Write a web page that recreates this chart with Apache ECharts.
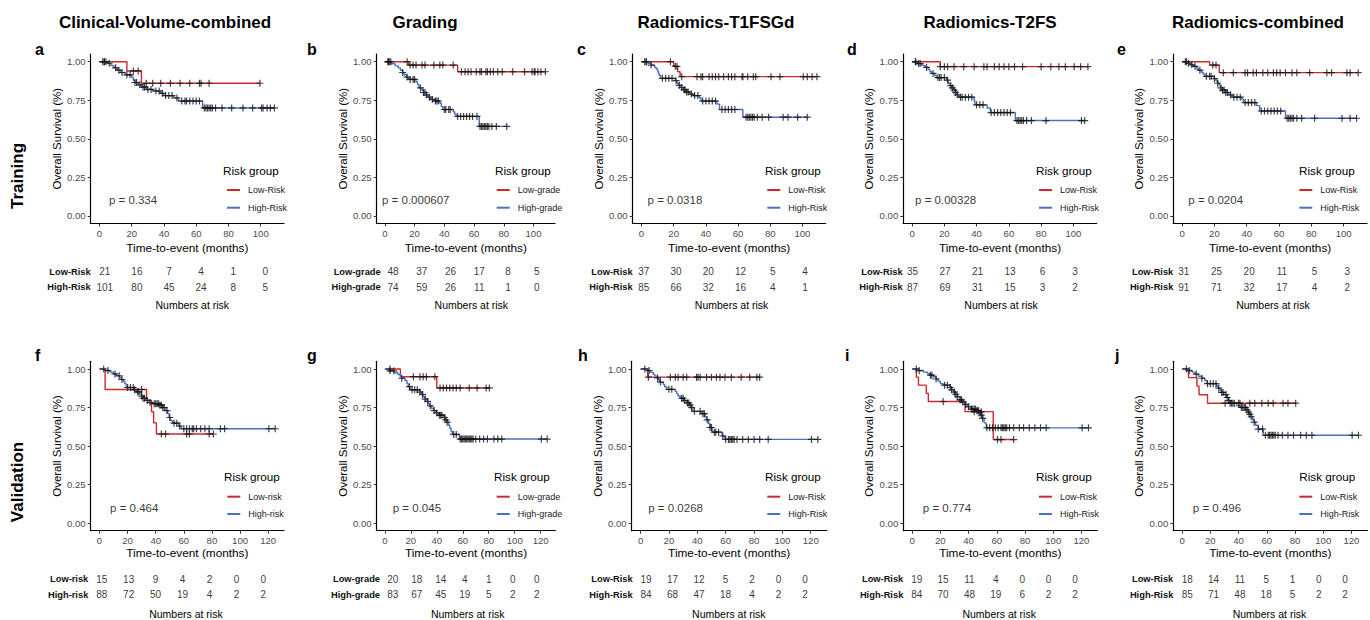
<!DOCTYPE html>
<html><head><meta charset="utf-8">
<script src="https://cdn.jsdelivr.net/npm/echarts@6/dist/echarts.min.js"></script>
<style>html,body{margin:0;padding:0;background:#fff}#c{width:1370px;height:620px}</style>
</head><body><div id="c"></div>
<script>
// ---------------- text / ticks ----------------
const columnTitles = ['Clinical-Volume-combined', 'Grading', 'Radiomics-T1FSGd', 'Radiomics-T2FS', 'Radiomics-combined'];
const rowTitles = ['Training', 'Validation'];
const panelLetters = ['a','b','c','d','e','f','g','h','i','j'];
const legendTitle = 'Risk group';
const xAxisTitle = 'Time-to-event (months)';
const yAxisTitle = 'Overall Survival (%)';
const tableTitle = 'Numbers at risk';
const xTicksTrain = [0, 20, 40, 60, 80, 100];
const xTicksVal = [0, 20, 40, 60, 80, 100, 120];
const yTicks = [0, 0.25, 0.5, 0.75, 1];
const groupNames = [
  ['Low-Risk','High-Risk'], ['Low-grade','High-grade'], ['Low-Risk','High-Risk'], ['Low-Risk','High-Risk'], ['Low-Risk','High-Risk'],
  ['Low-risk','High-risk'], ['Low-grade','High-grade'], ['Low-Risk','High-Risk'], ['Low-Risk','High-Risk'], ['Low-Risk','High-Risk']
];
const pValues = ['0.334', '0.000607', '0.0318', '0.00328', '0.0204', '0.464', '0.045', '0.0268', '0.774', '0.496'];

// ---------------- panel a ----------------
const aLowSteps = [[0,1],[17,0.94],[26,0.86],[99.5,0.86]];
const aLowCensor = [3,21,24,29,33,38,44,50,56,62,63,68,99.5];
const aHighSteps = [[0,1],[5,0.99],[7,0.975],[9,0.96],[11,0.945],[13,0.93],[16,0.915],[20,0.9],[21,0.88],[22,0.865],[24,0.85],[26,0.835],[29,0.82],[33,0.81],[38,0.795],[40,0.78],[46,0.765],[49,0.745],[64,0.70],[108.5,0.70]];
const aHighCensor = [2,3,4,6,10,12,14,17,19,22,23,25,27,28,30,32,35,37,39,41,43,45,48,51,53,54,56,58,60,62,65,66,67,68,69,70,72,76,82,89,95,100.5,101.5,104,106,108.5];
const aLowRisk = [21,16,7,4,1,0];
const aHighRisk = [101,80,45,24,8,5];
// ---------------- panel b ----------------
const bLowSteps = [[0,1],[16,0.978],[49,0.935],[108,0.935]];
const bLowCensor = [2.5,4,15,17,19,21,25,27,33,37,39,46,51.5,54,56,58,61.5,64,65,68,69,71,73,76,79,86,94,99,100.5,101,103,105,108];
const bHighSteps = [[0,1],[4,0.987],[7,0.973],[9,0.96],[10.5,0.945],[12,0.93],[13,0.915],[14.5,0.9],[16,0.885],[21,0.87],[22,0.85],[23,0.83],[25,0.815],[26,0.8],[28,0.785],[29,0.77],[31,0.755],[33,0.745],[37,0.73],[38,0.71],[39,0.69],[46,0.675],[47,0.66],[48,0.645],[63.5,0.58],[82,0.58]];
const bHighCensor = [2,3,12,15,17,19,20,24,26,27,28,30,32,34,35,36,40,41,43,44,49,51,53,55,57,59,62,64,65,66,67,68,69,70,72,75,82];
const bLowRisk = [48,37,26,17,8,5];
const bHighRisk = [74,59,26,11,1,0];
// ---------------- panel c ----------------
const cLowSteps = [[0,1],[20,0.97],[22.5,0.935],[24,0.903],[109,0.903]];
const cLowCensor = [3,18,21,22,25,34.5,37,38,42,44,46,48,51,54,56,58,62.5,63,66,69.5,71,80.5,86,100.5,103,106,109];
const cHighSteps = [[0,1],[4,0.99],[6,0.978],[8,0.966],[9,0.954],[10,0.94],[10.5,0.925],[11,0.91],[12,0.892],[21,0.877],[22,0.862],[23,0.847],[24.5,0.832],[26,0.818],[28,0.804],[30,0.79],[32,0.78],[36,0.765],[37,0.745],[47,0.725],[48.5,0.69],[63,0.64],[103,0.64]];
const cHighCensor = [2,3,6,13,15,17,19,21.5,23.5,25,26.5,27,28,29,31,33,35,38,40,42,44,46,50,52,54,56,58,65,66,67,68,69,70,72,75,79,88,91,97,103];
const cLowRisk = [37,30,20,12,5,4];
const cHighRisk = [85,66,32,16,4,1];
// ---------------- panel d ----------------
const dLowSteps = [[0,1],[17.5,0.968],[109,0.968]];
const dLowCensor = [2.3,17.5,20,22,26,32,38.5,44.5,46.5,51,54,57,60,63.5,68.5,80,86,91,95,100.5,104.5,109];
const dHighSteps = [[0,1],[3.5,0.988],[6,0.976],[8,0.963],[10,0.95],[11,0.937],[12,0.924],[14,0.91],[15,0.897],[21.5,0.88],[22.5,0.86],[23.5,0.845],[24.5,0.83],[26,0.815],[27,0.8],[28,0.785],[29,0.77],[38.5,0.745],[39,0.72],[46.5,0.7],[48.5,0.67],[64,0.618],[107,0.618]];
const dHighCensor = [2,4,5,9,13,16,17,18,20,22,24,25,26,27,28,30,31,33,35,37,40,42,44,49,51,53,55,57,59,61,65,66,67,68,69,71,74,83,105,107];
const dLowRisk = [35,27,21,13,6,3];
const dHighRisk = [87,69,31,15,3,2];
// ---------------- panel e ----------------
const eLowSteps = [[0,1],[17,0.978],[23,0.929],[109,0.929]];
const eLowCensor = [2.7,19,21,25.5,31.7,39,40.5,44,46,50,53,56.5,58.5,60.7,64,68,71,79,89.6,92.5,102,104,109];
const eHighSteps = [[0,1],[3,0.99],[5,0.98],[7,0.97],[9,0.958],[10,0.945],[12,0.932],[13,0.92],[14,0.905],[20,0.89],[21,0.875],[22,0.86],[23,0.845],[24,0.83],[25,0.815],[27,0.8],[29,0.785],[31,0.77],[37,0.755],[38,0.735],[46,0.715],[48,0.68],[64,0.633],[108,0.633]];
const eHighCensor = [2,4,6,8,11,15,17,18,20,22,24,25,26,27,28,30,32,34,36,39,41,43,45,49,51,53,55,57,59,61,65,66,67,68,69,71,74,82,99,104,108];
const eLowRisk = [31,25,20,11,5,3];
const eHighRisk = [91,71,32,17,4,2];
// ---------------- panel f ----------------
const fLowSteps = [[0,1],[4,0.867],[33.5,0.795],[37,0.722],[38.5,0.65],[40.5,0.578],[81,0.578]];
const fLowCensor = [30,44,47,62,64,78,81];
const fHighSteps = [[0,1],[4,0.99],[7.5,0.98],[10,0.968],[12,0.956],[14.5,0.944],[15.5,0.932],[17,0.92],[18,0.905],[19,0.88],[25,0.866],[26,0.852],[28.5,0.838],[30,0.824],[31,0.81],[33,0.796],[35.5,0.782],[38,0.775],[42.5,0.765],[45,0.75],[47,0.73],[48.5,0.71],[49.5,0.685],[50.5,0.665],[52,0.648],[56.5,0.63],[58,0.612],[125,0.612]];
const fHighCensor = [3,6,11,14,16,20,22,24,25,27,28,30,31,32,34,36,39,40,41,42,43,44,45,46,48,50,53,55,57,60,62,64,66,67,69,72,75,78,86,89,120.5,125];
const fLowRisk = [15,13,9,4,2,0,0];
const fHighRisk = [88,72,50,19,4,2,2];
// ---------------- panel g ----------------
const gLowSteps = [[0,1],[12,0.95],[40,0.877],[80.5,0.877]];
const gLowCensor = [4,22,27,29.5,32,38.5,42.5,45,47.5,50,52.5,55,58,65,71,78,80.5];
const gHighSteps = [[0,1],[3,0.988],[7.5,0.976],[10,0.964],[12,0.952],[13,0.94],[15.5,0.925],[17,0.905],[18,0.885],[19.5,0.865],[27,0.85],[28.5,0.835],[29.5,0.82],[31,0.805],[32.5,0.79],[33.5,0.775],[34.5,0.76],[36,0.745],[37.5,0.73],[39.5,0.715],[42,0.7],[45.5,0.685],[46.5,0.67],[48,0.655],[49,0.635],[50,0.615],[51,0.595],[52,0.575],[57.5,0.545],[125,0.545]];
const gHighCensor = [4,7,13,19,21,23,25,27,29,31,33,35,38,40,42,43,44,46,47,48,53,55,58,59,60,61,62,63,64,65,66,67,68,70,73,76,79,84,87,90,120.5,125];
const gLowRisk = [20,18,14,4,1,0,0];
const gHighRisk = [83,67,45,19,5,2,2];
// ---------------- panel h ----------------
const hLowSteps = [[0,1],[5,0.947],[84,0.947]];
const hLowCensor = [5.5,21,24.5,26.5,30,32.5,39.5,40.5,42,46.5,50,53.5,56,59.5,64,71,77,82,84];
const hHighSteps = [[0,1],[5.5,0.99],[6.5,0.978],[9,0.966],[10,0.954],[11.5,0.942],[12.5,0.93],[13.5,0.915],[16,0.9],[17,0.885],[18.5,0.868],[24.5,0.855],[25.5,0.84],[26.5,0.825],[28,0.81],[30.5,0.795],[33,0.78],[34.5,0.765],[36,0.75],[37,0.725],[43,0.71],[45.5,0.69],[46.5,0.67],[48,0.645],[49,0.62],[50.5,0.59],[57.5,0.565],[59.5,0.543],[125,0.543]];
const hHighCensor = [3,6,12,14,20,22,29,30,31,33,34,35,36,38,42,44,45,47,49,50,52,53,55,58,60,62,63,64,65,66,68,72,76,80,84,90,120.5,125];
const hLowRisk = [19,17,12,5,2,0,0];
const hHighRisk = [84,68,47,18,4,2,2];
// ---------------- panel i ----------------
const iLowSteps = [[0,1],[3,0.947],[4.5,0.895],[10,0.842],[11.5,0.789],[37.5,0.723],[57.5,0.542],[72,0.542]];
const iLowCensor = [22,44,49,60.5,63,72];
const iHighSteps = [[0,1],[4.5,0.99],[8,0.98],[11,0.97],[13,0.96],[15,0.95],[17,0.935],[18.5,0.92],[20,0.905],[22,0.895],[27,0.88],[28,0.865],[29.5,0.85],[30.5,0.835],[32,0.82],[34,0.8],[35.5,0.785],[37.5,0.77],[39,0.755],[42,0.74],[45.5,0.73],[48,0.715],[49,0.7],[50,0.68],[51,0.65],[52.5,0.618],[125,0.618]];
const iHighCensor = [3,5,13,14,17,23,25,27,28,30,31,32,34,35,36,38,40,42,43,44,45,46,47,48,49,50,53,55,57,59,61,63,64,65,66,67,69,72,76,79,83,87,91,95,120.5,125];
const iLowRisk = [19,15,11,4,0,0,0];
const iHighRisk = [84,70,48,19,6,2,2];
// ---------------- panel j ----------------
const jLowSteps = [[0,1],[4.5,0.944],[10.5,0.889],[12,0.833],[18,0.778],[80.5,0.778]];
const jLowCensor = [30.5,34,40,41,48,51.5,56.5,61,64.5,71.5,75,80.5];
const jHighSteps = [[0,1],[4.5,0.99],[7,0.98],[9,0.967],[11.5,0.953],[14,0.94],[16,0.925],[17.5,0.905],[24.5,0.89],[25.5,0.876],[27,0.862],[28,0.848],[29.5,0.834],[31.5,0.815],[33,0.795],[34,0.778],[38.5,0.762],[41,0.75],[46,0.735],[47,0.72],[48,0.705],[49,0.69],[50,0.672],[51,0.655],[52,0.635],[54,0.61],[57.5,0.57],[125,0.57]];
const jHighCensor = [3,5,10,14,18,20,22,24,26,28,29,31,32,33,35,36,37,42,43,44,45,46,47,48,49,51,54,57,59,61,62,63,64,65,66,68,71,75,79,84,88,92,120.5,125];
const jLowRisk = [18,14,11,5,1,0,0];
const jHighRisk = [85,71,48,18,5,2,2];

const panelData = [
  [aLowSteps,aHighSteps,aLowCensor,aHighCensor,aLowRisk,aHighRisk],
  [bLowSteps,bHighSteps,bLowCensor,bHighCensor,bLowRisk,bHighRisk],
  [cLowSteps,cHighSteps,cLowCensor,cHighCensor,cLowRisk,cHighRisk],
  [dLowSteps,dHighSteps,dLowCensor,dHighCensor,dLowRisk,dHighRisk],
  [eLowSteps,eHighSteps,eLowCensor,eHighCensor,eLowRisk,eHighRisk],
  [fLowSteps,fHighSteps,fLowCensor,fHighCensor,fLowRisk,fHighRisk],
  [gLowSteps,gHighSteps,gLowCensor,gHighCensor,gLowRisk,gHighRisk],
  [hLowSteps,hHighSteps,hLowCensor,hHighCensor,hLowRisk,hHighRisk],
  [iLowSteps,iHighSteps,iLowCensor,iHighCensor,iLowRisk,iHighRisk],
  [jLowSteps,jHighSteps,jLowCensor,jHighCensor,jLowRisk,jHighRisk]
];

// ---------------- layout (pixels / styles) ----------------
const FONT = '"Liberation Sans", Arial, Helvetica, sans-serif';
const RED = '#CC2A2F', BLUE = '#4A72C0';
const plotLeft   = [90.7,376.7,632.7,903.3,1173.3, 90.7,376.7,631.7,903.3,1173.3];
const plotRight  = [284,555,825.7,1096.7,1367, 284,555.3,826.7,1097.3,1367.3];
const tableLeft  = [96.05,385.2,634.9,903.6,1174.8, 93.3,385.2,637.7,908.5,1179.1];
const tableRight = [288.5,557.5,828.3,1098.5,1371, 278.5,550.2,819.9,1089.8,1359.8];
const tableLabelRight = [90.7,380.7,632.7,903.3,1173.3, 88.3,380,632.7,903.3,1173.3];
const legendLineX = [227,496.7,767.3,1039,1299.3, 227.3,496.7,767.3,1039,1299.3];
const legendTitleX = [223,495,765,1036,1299, 224,494,765,1036,1299.3];
const letterX = [35,307,577,847,1117, 35,307,578,845,1115];
const colTitleX = [165,425,716,990,1258];
const row = [
  {top:54, h:169.5, xr:[-5.45,114.45], ticks:xTicksTrain, tTop:263.9, nameGap:18, tNameGap:4.6, legTop:184, legGap:5.7, rgY:170, letterY:49, labelY:176, p:[20.8,0.1]},
  {top:361.3, h:169.4, xr:[-6.25,131.25], ticks:xTicksVal, tTop:571.2, nameGap:16.5, tNameGap:6.3, legTop:490.7, legGap:5.3, rgY:476.7, letterY:355.5, labelY:482, p:[24.7,0.095]}
];
const CROSS = 'path://M4.15,0H5.85V4.15H10V5.85H5.85V10H4.15V5.85H0V4.15H4.15Z';

function survAt(steps, t) {
  let s = steps[0][1];
  for (const [x, y] of steps) { if (x <= t) s = y; else break; }
  return s;
}

const grid = [], xAxis = [], yAxis = [], series = [], legend = [], graphics = [];

panelData.forEach((pd, k) => {
  const r = row[k < 5 ? 0 : 1];
  const [lowS, highS, lowC, highC, lowN, highN] = pd;
  const [lowName, highName] = groupNames[k];
  const gi = grid.length;
  grid.push({left: plotLeft[k], top: r.top, width: plotRight[k] - plotLeft[k], height: r.h, containLabel: false, outerBoundsMode: 'none'});
  xAxis.push({
    type: 'value', gridIndex: gi, min: r.xr[0], max: r.xr[1],
    name: xAxisTitle, nameLocation: 'middle', nameGap: r.nameGap,
    nameTextStyle: {fontSize: 11.8, color: '#000', fontFamily: FONT},
    axisLine: {show: true, onZero: false, lineStyle: {color: '#000', width: 1.2}},
    axisTick: {show: true, customValues: r.ticks, length: 3, lineStyle: {color: '#333', width: 1}},
    axisLabel: {show: true, customValues: r.ticks, color: '#4D4D4D', fontSize: 9.6, margin: 4.5, fontFamily: FONT},
    splitLine: {show: false}
  });
  yAxis.push({
    type: 'value', gridIndex: gi, min: -0.05, max: 1.05,
    name: yAxisTitle, nameLocation: 'middle', nameGap: 28, nameRotate: 90,
    nameTextStyle: {fontSize: 11.5, color: '#000', fontFamily: FONT},
    axisLine: {show: true, onZero: false, lineStyle: {color: '#000', width: 1.2}},
    axisTick: {show: true, customValues: yTicks, length: 3, lineStyle: {color: '#333', width: 1}},
    axisLabel: {show: true, customValues: yTicks, color: '#4D4D4D', fontSize: 9.6, margin: 5, fontFamily: FONT, formatter: v => v.toFixed(2)},
    splitLine: {show: false}
  });
  [[lowS, lowName, RED], [highS, highName, BLUE]].forEach(([st, nm, col]) => {
    series.push({type: 'line', name: nm, xAxisIndex: gi, yAxisIndex: gi, data: st, step: 'end',
      symbol: 'none', showSymbol: false, lineStyle: {color: col, width: 1.4}, itemStyle: {color: col},
      z: 2, silent: true, animation: false});
  });
  [[lowS, lowC, 'low'], [highS, highC, 'high']].forEach(([st, cs, tag]) => {
    series.push({type: 'scatter', name: panelLetters[k] + '-censor-' + tag, xAxisIndex: gi, yAxisIndex: gi,
      data: cs.map(t => [t, survAt(st, t)]), symbol: CROSS, symbolSize: 7,
      itemStyle: {color: '#111'}, z: 4, silent: true, animation: false});
  });
  series.push({type: 'scatter', name: panelLetters[k] + '-pval', xAxisIndex: gi, yAxisIndex: gi,
    data: [[r.p[0], r.p[1]]], symbolSize: 1, itemStyle: {color: 'rgba(0,0,0,0)'}, silent: true, animation: false,
    label: {show: true, position: 'inside', formatter: 'p = ' + pValues[k], fontSize: 11.5, color: '#000', fontFamily: FONT}});
  legend.push({orient: 'vertical', left: legendLineX[k], top: r.legTop, itemWidth: 13, itemHeight: 2, itemGap: r.legGap,
    icon: 'rect', selectedMode: false, padding: 0,
    data: [{name: lowName, itemStyle: {color: RED}}, {name: highName, itemStyle: {color: BLUE}}],
    textStyle: {fontSize: 9, color: '#1a1a1a', fontFamily: FONT, lineHeight: 12, padding: [0, 0, 0, 3]}});
  graphics.push({type: 'text', x: legendTitleX[k], y: r.rgY,
    style: {text: legendTitle, fontSize: 11.7, fontFamily: FONT, fill: '#000', align: 'left', verticalAlign: 'middle'}});
  graphics.push({type: 'text', x: letterX[k], y: r.letterY,
    style: {text: panelLetters[k], fontSize: 16, fontWeight: 'bold', fontFamily: FONT, fill: '#000', align: 'left', verticalAlign: 'middle'}});

  const ti = grid.length;
  grid.push({left: tableLeft[k], top: r.tTop, width: tableRight[k] - tableLeft[k], height: 31.2, containLabel: false, outerBoundsMode: 'none'});
  xAxis.push({type: 'value', gridIndex: ti, min: r.xr[0], max: r.xr[1],
    name: tableTitle, nameLocation: 'middle', nameGap: r.tNameGap,
    nameTextStyle: {fontSize: 10.5, color: '#000', fontFamily: FONT},
    axisLine: {show: false, onZero: false}, axisTick: {show: false}, axisLabel: {show: false}, splitLine: {show: false}});
  yAxis.push({type: 'category', gridIndex: ti, data: [lowName, highName], inverse: true,
    axisLine: {show: false}, axisTick: {show: false}, splitLine: {show: false},
    axisLabel: {show: true, fontSize: 9.3, fontWeight: 'bold', color: '#111', fontFamily: FONT,
      margin: Math.max(1, tableLeft[k] - tableLabelRight[k])}});
  [[lowN, lowName], [highN, highName]].forEach(([nums, nm]) => {
    series.push({type: 'scatter', name: panelLetters[k] + '-risk-' + nm, xAxisIndex: ti, yAxisIndex: ti,
      data: r.ticks.map((t, i) => [t, nm, nums[i]]), symbolSize: 1, itemStyle: {color: 'rgba(0,0,0,0)'},
      silent: true, animation: false,
      label: {show: true, position: 'inside', formatter: p => String(p.value[2]), fontSize: 10, color: '#000', fontFamily: FONT}});
  });
});

columnTitles.forEach((t, c) => {
  graphics.push({type: 'text', x: colTitleX[c], y: 22,
    style: {text: t, fontSize: 17, fontWeight: 'bold', fontFamily: FONT, fill: '#000', align: 'center', verticalAlign: 'middle'}});
});
rowTitles.forEach((t, i) => {
  graphics.push({type: 'text', x: 17, y: row[i].labelY, rotation: Math.PI / 2,
    style: {text: t, fontSize: 17, fontWeight: 'bold', fontFamily: FONT, fill: '#000', align: 'center', verticalAlign: 'middle'}});
});

const chart = echarts.init(document.getElementById('c'), null, {renderer: 'svg'});
chart.setOption({
  animation: false,
  backgroundColor: '#fff',
  textStyle: {fontFamily: FONT},
  grid, xAxis, yAxis, series, legend,
  graphic: {elements: graphics}
});
</script></body></html>
